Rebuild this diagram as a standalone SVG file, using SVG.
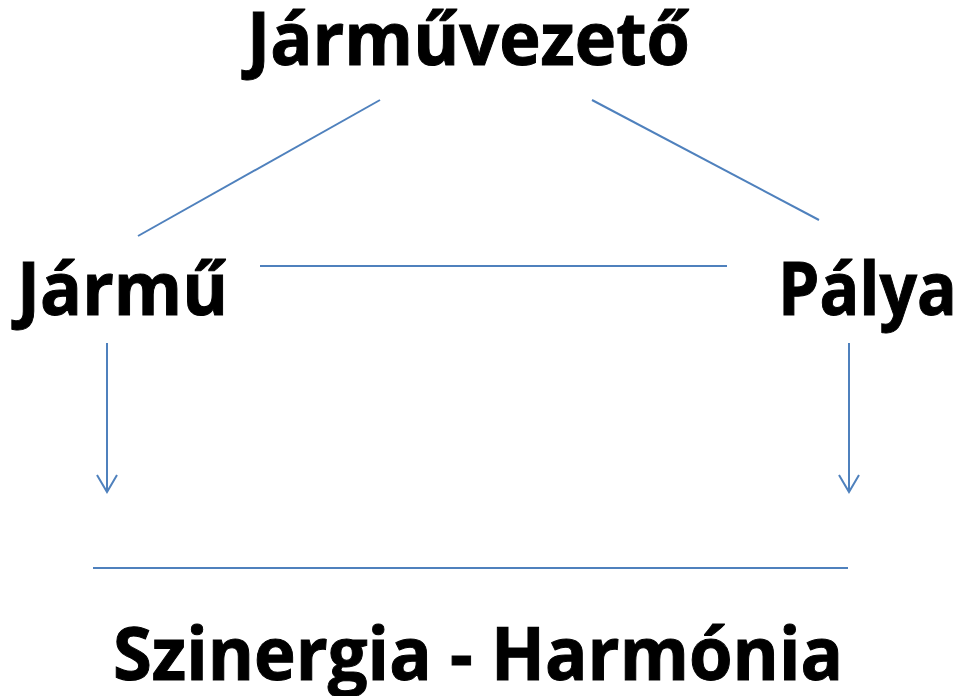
<svg xmlns="http://www.w3.org/2000/svg" width="963" height="696" viewBox="0 0 963 696">
  <style>
    .lbl { font-family: "Open Sans", "Liberation Sans", sans-serif; font-weight: bold; font-size: 66px; fill: #000000; stroke: #000000; stroke-width: 0.9; }
    .conn { stroke: #4F81BD; stroke-width: 2; fill: none; }
  </style>
  <rect width="963" height="696" fill="#ffffff"/>
  <g id="connectors">
    <line class="conn" x1="380" y1="100" x2="138" y2="236"/>
    <line class="conn" x1="592" y1="100" x2="819" y2="220"/>
    <line class="conn" x1="260" y1="266" x2="727" y2="266"/>
    <line class="conn" x1="107" y1="343" x2="107" y2="491"/>
    <path class="conn" d="M97,475 L107,492 L117,475"/>
    <line class="conn" x1="849" y1="343" x2="849" y2="491"/>
    <path class="conn" d="M839,475 L849,492 L859,475"/>
    <line class="conn" x1="93" y1="568" x2="848" y2="568"/>
  </g>
  <g id="node-jarmuvezeto" transform="translate(247,65) scale(1,1.12)">
    <text class="lbl" x="0" y="0" textLength="443" lengthAdjust="spacingAndGlyphs">Járművezető</text>
  </g>
  <g id="node-jarmu" transform="translate(17,315) scale(1,1.12)">
    <text class="lbl" x="0" y="0" textLength="211" lengthAdjust="spacingAndGlyphs">Jármű</text>
  </g>
  <g id="node-palya" transform="translate(778,315) scale(1,1.12)">
    <text class="lbl" x="0" y="0" textLength="179" lengthAdjust="spacingAndGlyphs">Pálya</text>
  </g>
  <g id="node-szinergia" transform="translate(113,680) scale(1,1.12)">
    <text class="lbl" x="0" y="0" textLength="730" lengthAdjust="spacingAndGlyphs">Szinergia - Harmónia</text>
  </g>
</svg>
